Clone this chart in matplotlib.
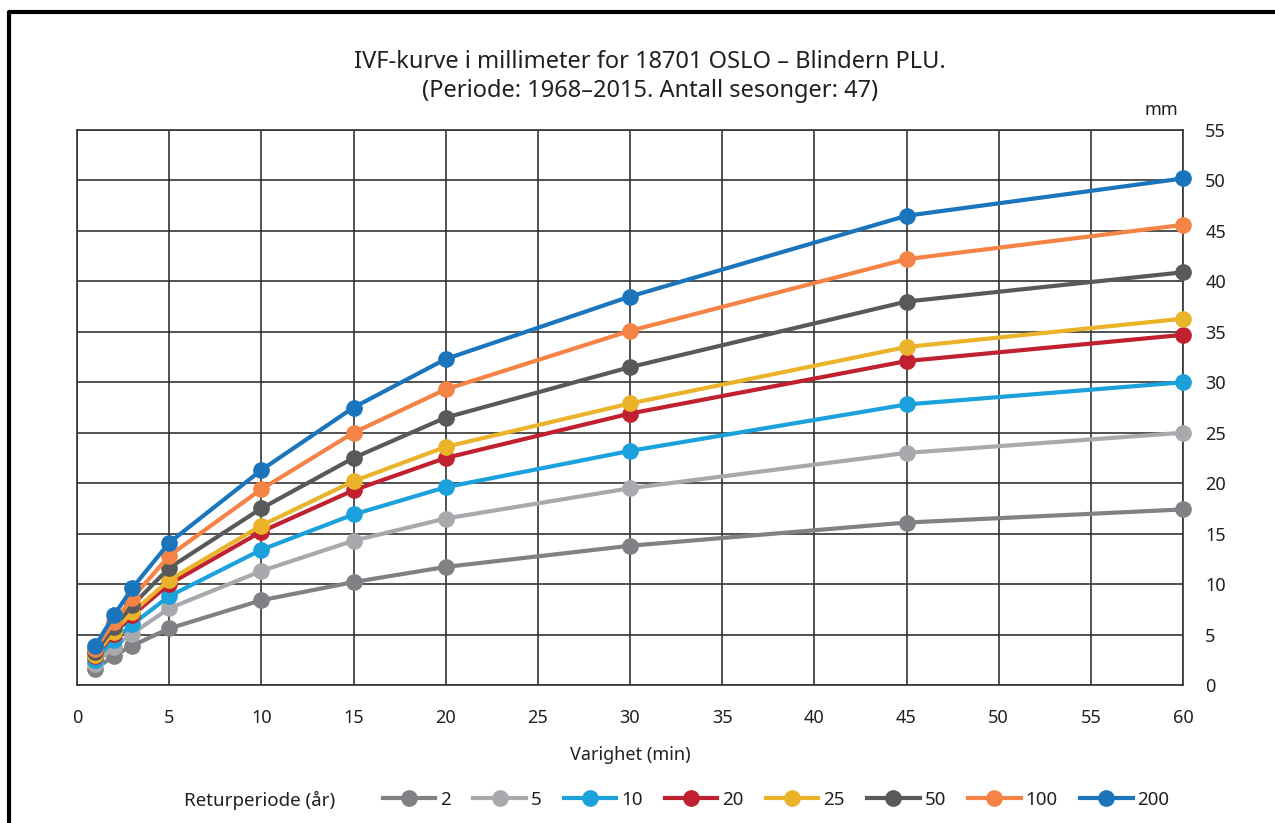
import matplotlib
matplotlib.use("Agg")
import matplotlib.pyplot as plt
from matplotlib.lines import Line2D

plt.rcParams["font.family"] = ["Noto Sans", "DejaVu Sans"]

# ─── Data ────────────────────────────────────────────────────────────────────
durations = [1, 2, 3, 5, 10, 15, 20, 30, 45, 60]
return_periods = ["2", "5", "10", "20", "25", "50", "100", "200"]

mm_2 = [1.6, 2.9, 3.9, 5.6, 8.4, 10.2, 11.7, 13.8, 16.1, 17.4]
mm_5 = [2.1, 3.8, 5.1, 7.6, 11.3, 14.3, 16.5, 19.5, 23.0, 25.0]
mm_10 = [2.5, 4.5, 6.0, 8.8, 13.4, 16.9, 19.6, 23.2, 27.8, 30.0]
mm_20 = [2.9, 5.1, 6.9, 10.0, 15.2, 19.3, 22.5, 26.9, 32.1, 34.7]
mm_25 = [3.0, 5.3, 7.2, 10.4, 15.8, 20.2, 23.6, 27.9, 33.5, 36.3]
mm_50 = [3.3, 5.7, 7.9, 11.6, 17.5, 22.5, 26.5, 31.5, 38.0, 40.9]
mm_100 = [3.6, 6.2, 8.6, 12.8, 19.4, 25.0, 29.3, 35.1, 42.2, 45.6]
mm_200 = [3.9, 6.9, 9.6, 14.1, 21.3, 27.5, 32.3, 38.5, 46.5, 50.2]

series = [mm_2, mm_5, mm_10, mm_20, mm_25, mm_50, mm_100, mm_200]
colors = ["#808184", "#a7a9ac", "#1ba1dc", "#c0202f",
          "#eab32a", "#58595b", "#f58345", "#1b75bc"]

# ─── Figure ──────────────────────────────────────────────────────────────────
W, H = 1275, 823
TXT = "#231f20"
fig = plt.figure(figsize=(W / 100, H / 100), dpi=100)
ax = fig.add_axes([77 / W, 1 - 685 / H, (1183 - 77) / W, (685 - 130) / H])

for vals, col in zip(series, colors):
    ax.plot(durations, vals, color=col, lw=3, marker="o", ms=11,
            solid_capstyle="round", clip_on=False, zorder=3)

ax.set_xlim(0, 60)
ax.set_ylim(0, 55)
ax.set_xticks(range(0, 61, 5))
ax.set_yticks(range(0, 56, 5))
ax.yaxis.tick_right()
ax.tick_params(length=0, labelsize=13, colors=TXT)
ax.tick_params(axis="x", pad=17)
ax.tick_params(axis="y", pad=16)
ax.grid(True, color="#333333", lw=1.2)
for s in ax.spines.values():
    s.set_color("#333333")
    s.set_linewidth(1.2)

ax.set_xlabel("Varighet (min)", fontsize=13, color=TXT, labelpad=14)
fig.text(1161 / W, 1 - 110 / H, "mm", fontsize=13, color=TXT,
         ha="center", va="center")

fig.text(650 / W, 1 - 62 / H, "IVF-kurve i millimeter for 18701 OSLO – Blindern PLU.",
         fontsize=17, color=TXT, ha="center", va="center")
fig.text(650 / W, 1 - 91 / H, "(Periode: 1968–2015. Antall sesonger: 47)",
         fontsize=17, color=TXT, ha="center", va="center")

# legend
handles = [Line2D([], [], color=c, lw=3, marker="o", ms=11) for c in colors]
leg = fig.legend(handles, return_periods, loc="center", ncol=8,
                 bbox_to_anchor=(776 / W, 1 - 800 / H), frameon=False,
                 fontsize=13.5, handlelength=2.8, handletextpad=0.25,
                 columnspacing=1.2)
for t in leg.get_texts():
    t.set_color(TXT)
fig.text(184 / W, 1 - 800 / H, "Returperiode (år)", fontsize=13.5,
         color=TXT, ha="left", va="center")

# outer frame
fig.add_artist(Line2D([9 / W, 9 / W, 1.0], [0.0, 1 - 12 / H, 1 - 12 / H],
                      transform=fig.transFigure, color="black", lw=3))

fig.savefig("out.png", dpi=100)
